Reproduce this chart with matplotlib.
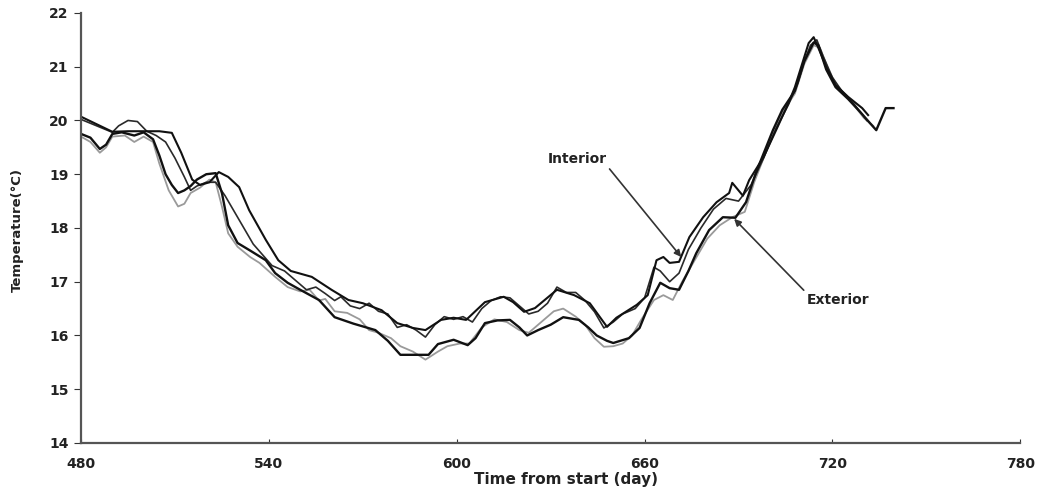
import matplotlib
matplotlib.use("Agg")
import matplotlib.pyplot as plt

# =========================
# Data
# =========================
# Interior sensor 1 (black, upper band)
int1_day = [480, 485, 490, 495, 500, 505, 509, 512, 515.5, 518, 521, 524, 527, 530.5,
            533.7, 539, 543, 547, 553.7, 560, 565.4, 570, 576, 581, 586, 590, 595, 599,
            603, 609, 615, 618, 621.5, 625, 632, 637.5, 642.5, 648, 651, 657.5, 661,
            663.8, 666, 668, 671, 674.3, 678.7, 683, 687, 688, 691.4, 693.4, 698, 702,
            706, 708, 711, 712.4, 714, 715.5, 718, 721, 725, 729.5, 731.4]
int1_temp = [20.07, 19.93, 19.79, 19.8, 19.8, 19.8, 19.77, 19.4, 18.9, 18.8, 18.85, 19.04,
             18.95, 18.76, 18.33, 17.78, 17.4, 17.2, 17.09, 16.85, 16.66, 16.6, 16.47,
             16.23, 16.14, 16.1, 16.29, 16.33, 16.29, 16.62, 16.72, 16.62, 16.44, 16.51,
             16.85, 16.75, 16.6, 16.16, 16.33, 16.57, 16.75, 17.4, 17.46, 17.35, 17.37,
             17.83, 18.2, 18.48, 18.65, 18.84, 18.6, 18.89, 19.32, 19.82, 20.33, 20.62,
             21.18, 21.44, 21.55, 21.35, 21.0, 20.66, 20.44, 20.23, 20.1]

# Interior sensor 2 (dark, wiggly)
int2_day = [480, 485, 490, 492, 495, 498, 501, 504, 507, 510, 513, 515, 517, 520, 523,
            526, 529, 532, 535, 538, 541, 545, 549, 552, 555, 558, 561, 563, 566, 569,
            572, 575, 578, 581, 584, 587, 590, 593, 596, 599, 602, 605, 608, 611, 614,
            617, 620, 623, 626, 629, 632, 635, 638, 641, 644, 647, 650, 653, 657, 660,
            663, 665, 668, 671, 674, 678, 682, 686, 690, 694, 698, 702, 706, 709, 711,
            713, 715, 717, 720, 723, 727, 731]
int2_temp = [20.02, 19.9, 19.78, 19.9, 20.0, 19.98, 19.8, 19.72, 19.6, 19.3, 18.95, 18.7,
             18.78, 18.85, 18.85, 18.6, 18.3, 18.0, 17.7, 17.5, 17.3, 17.2, 17.0, 16.85,
             16.9, 16.78, 16.65, 16.72, 16.55, 16.5, 16.6, 16.45, 16.4, 16.15, 16.2, 16.1,
             15.97, 16.2, 16.35, 16.3, 16.35, 16.25, 16.5, 16.65, 16.72, 16.7, 16.55, 16.4,
             16.45, 16.6, 16.9, 16.8, 16.8, 16.65, 16.44, 16.14, 16.25, 16.4, 16.5, 16.7,
             17.27, 17.2, 17.0, 17.16, 17.6, 18.0, 18.35, 18.55, 18.5, 18.8, 19.3, 19.85,
             20.3, 20.7, 21.1, 21.4, 21.5, 21.2, 20.8, 20.55, 20.3, 20.0]

# Exterior sensor 1 (black, lower band)
ext1_day = [480, 483, 486, 488, 490, 493, 497, 500, 503, 505, 507, 509, 511, 513, 515,
            517, 520, 523, 525, 527, 530, 534, 539, 542, 546, 550, 556, 561, 567, 574,
            578, 582, 587, 591, 594, 599, 603.5, 606, 609, 613, 617, 620, 622.5, 626,
            630, 634, 639, 642, 644.7, 648, 650, 655, 658.4, 661.6, 665, 668, 671, 674,
            676.5, 680.6, 685, 689, 692.4, 695.5, 701, 704, 708, 711, 714, 715.5, 718,
            721, 725, 729, 732, 734, 737, 739.5]
ext1_temp = [19.75, 19.68, 19.47, 19.55, 19.75, 19.78, 19.72, 19.78, 19.65, 19.35, 19.0,
             18.8, 18.65, 18.7, 18.78, 18.9, 19.0, 19.02, 18.65, 18.05, 17.72, 17.58,
             17.4, 17.16, 16.98, 16.85, 16.66, 16.34, 16.22, 16.1, 15.9, 15.64, 15.64,
             15.64, 15.84, 15.92, 15.82, 15.95, 16.23, 16.28, 16.29, 16.15, 16.0, 16.1,
             16.2, 16.34, 16.29, 16.15, 16.0, 15.9, 15.86, 15.95, 16.14, 16.6, 16.98,
             16.88, 16.85, 17.2, 17.53, 17.96, 18.2, 18.19, 18.48, 19.02, 19.82, 20.2,
             20.55, 21.1, 21.45, 21.4, 20.95, 20.62, 20.4, 20.15, 19.95, 19.82, 20.23, 20.23]

# Exterior sensor 2 (grey)
ext2_day = [480, 483, 486, 488, 490, 494, 497, 500, 503, 505, 508, 511, 513, 515, 518,
            521, 523, 525, 527, 530, 534, 537, 542, 546, 550, 553, 556, 558, 561, 565,
            569, 572, 575, 579, 582, 586, 590, 594, 597, 601, 604, 608, 612, 616, 620,
            623, 627, 631, 634, 638, 641, 644, 647, 650, 653, 656, 659, 663, 666, 669,
            672, 676, 680, 684, 688, 692, 695, 700, 704, 708, 711, 714, 716, 719, 722,
            726, 730, 733]
ext2_temp = [19.7, 19.6, 19.4, 19.5, 19.7, 19.72, 19.6, 19.7, 19.6, 19.2, 18.7, 18.4,
             18.45, 18.65, 18.75, 18.9, 18.85, 18.4, 17.9, 17.65, 17.46, 17.35, 17.09,
             16.9, 16.82, 16.85, 16.65, 16.68, 16.45, 16.42, 16.3, 16.1, 16.05, 15.95,
             15.8, 15.7, 15.55, 15.7, 15.8, 15.85, 15.85, 16.15, 16.3, 16.25, 16.1, 16.05,
             16.25, 16.45, 16.5, 16.35, 16.2, 15.95, 15.79, 15.8, 15.85, 16.0, 16.3, 16.66,
             16.75, 16.66, 17.0, 17.4, 17.8, 18.05, 18.2, 18.3, 18.85, 19.6, 20.15, 20.5,
             21.05, 21.4, 21.35, 20.9, 20.6, 20.35, 20.05, 19.9]

x_ticks = [480, 540, 600, 660, 720, 780]
y_ticks = [14, 15, 16, 17, 18, 19, 20, 21, 22]

# =========================
# Plot
# =========================
plt.rcParams['font.family'] = ['DejaVu Sans']
fig = plt.figure(figsize=(10.39, 4.9), dpi=100)
ax = fig.add_axes([0.078, 0.096, 0.904, 0.8775])

ax.plot(ext2_day, ext2_temp, color="#9a9a9a", lw=1.3)
ax.plot(int2_day, int2_temp, color="#2a2a2a", lw=1.2)
ax.plot(ext1_day, ext1_temp, color="#111111", lw=1.7)
ax.plot(int1_day, int1_temp, color="#111111", lw=1.5)

ax.set_xlim(480, 780)
ax.set_ylim(14, 22)
ax.set_xticks(x_ticks)
ax.set_yticks(y_ticks)
for s in ["top", "right"]:
    ax.spines[s].set_visible(False)
for s in ["left", "bottom"]:
    ax.spines[s].set_color("#555555")
    ax.spines[s].set_linewidth(1.6)
ax.tick_params(axis="x", direction="in", length=3, pad=10, colors="#333333")
ax.tick_params(axis="y", direction="out", length=5, pad=4, colors="#333333")
for lab in ax.get_xticklabels() + ax.get_yticklabels():
    lab.set_fontsize(10)
    lab.set_fontweight("bold")
    lab.set_color("#222222")

ax.annotate("Interior", xy=(671.7, 17.46), xytext=(629.2, 19.28),
            fontsize=10, fontweight="bold", color="#222222", va="center",
            arrowprops=dict(arrowstyle="-|>", color="#333333", lw=1.2,
                            shrinkA=0, shrinkB=0, relpos=(1.0, 0.0)))
ax.annotate("Exterior", xy=(688.6, 18.17), xytext=(711.7, 16.66),
            fontsize=10, fontweight="bold", color="#222222", va="center",
            arrowprops=dict(arrowstyle="-|>", color="#333333", lw=1.2,
                            shrinkA=0, shrinkB=0, relpos=(0.0, 1.0)))

fig.text(0.545, 0.022, "Time from start (day)", ha="center", va="center",
         fontsize=11, fontweight="bold", color="#222222")
fig.text(0.017, 0.53, "Temperature(°C)", ha="center", va="center", rotation=90,
         fontsize=9.5, fontweight="bold", color="#222222")

fig.savefig("out.png", dpi=100)
